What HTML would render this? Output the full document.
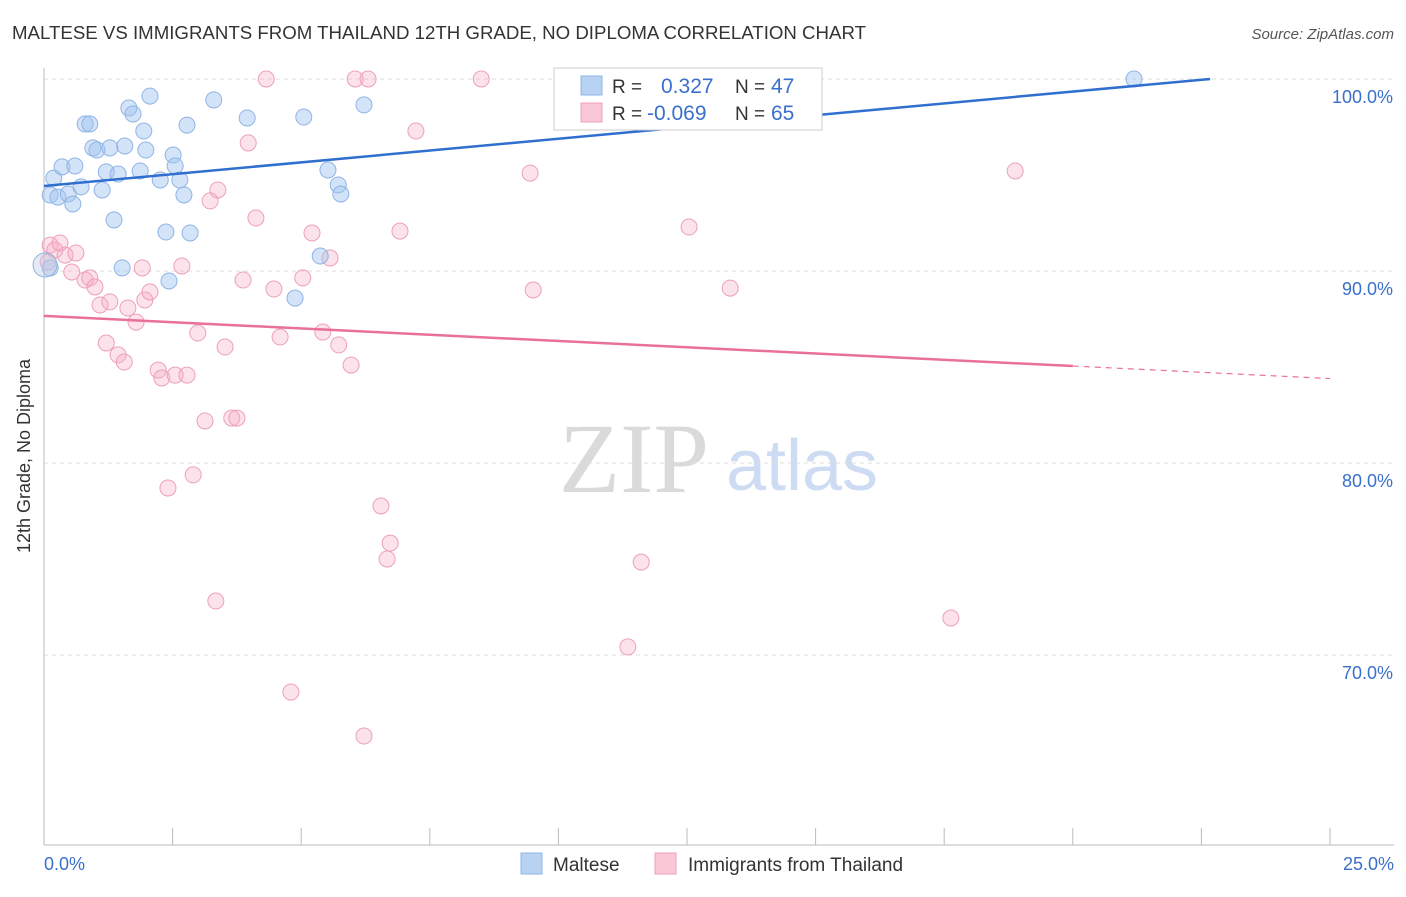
<!DOCTYPE html>
<html><head><meta charset="utf-8"><style>
body{margin:0;background:#fff;font-family:"Liberation Sans",sans-serif;}
</style></head><body>
<svg id="c" width="1406" height="892" font-family="Liberation Sans, sans-serif">
<text x="12" y="39" font-size="18" fill="#333" textLength="854" lengthAdjust="spacingAndGlyphs">MALTESE VS IMMIGRANTS FROM THAILAND 12TH GRADE, NO DIPLOMA CORRELATION CHART</text>
<text x="1394" y="39" font-size="15" fill="#555" text-anchor="end" font-style="italic">Source: ZipAtlas.com</text>
<text x="30" y="456" font-size="18" fill="#333" text-anchor="middle" transform="rotate(-90 30 456)">12th Grade, No Diploma</text>
<g><text x="634" y="492" font-size="100" fill="#dadada" text-anchor="middle" style="font-family:'Liberation Serif',serif">ZIP</text><text x="802" y="490" font-size="72" fill="#cddcf2" text-anchor="middle">atlas</text></g>
<g id="grid"></g><g id="axes"></g><g id="pts"></g><g id="lines"></g>
<g>
<rect x="554" y="68" width="268" height="62" fill="#fff" stroke="#ccc"/>
<rect x="581" y="76" width="21" height="19" fill="#b8d2f4" stroke="#8fb4e6"/>
<rect x="581" y="103" width="21" height="19" fill="#f9c7d6" stroke="#eda0bb"/>
<text x="612" y="93" font-size="19" fill="#333">R =</text><text x="661" y="93" font-size="21" fill="#3a6fcc">0.327</text>
<text x="735" y="93" font-size="19" fill="#333">N =</text><text x="771" y="93" font-size="21" fill="#3a6fcc">47</text>
<text x="612" y="120" font-size="19" fill="#333">R =</text><text x="647" y="120" font-size="21" fill="#3a6fcc">-0.069</text>
<text x="735" y="120" font-size="19" fill="#333">N =</text><text x="771" y="120" font-size="21" fill="#3a6fcc">65</text>
</g>
<g>
<rect x="521" y="853" width="21" height="21" fill="#b8d2f4" stroke="#8fb4e6"/><text x="553" y="871" font-size="19" fill="#333">Maltese</text>
<rect x="655" y="853" width="21" height="21" fill="#f9c7d6" stroke="#eda0bb"/><text x="688" y="871" font-size="19" fill="#333">Immigrants from Thailand</text>
</g>
</svg>
<script>
const yTicks=[100,90,80,70];
const xTickLabels=["0.0%","25.0%"];
const blueX=[0.19,0.12,0.27,0.47,0.56,0.35,0.60,0.72,0.80,0.89,0.95,1.03,1.13,1.21,1.28,1.36,1.44,1.52,1.57,1.65,1.73,1.87,1.94,1.98,2.06,2.26,2.37,2.43,2.51,2.55,2.64,2.72,2.78,2.84,3.30,3.95,4.88,5.05,5.37,5.52,5.72,5.77,6.22,21.19,0.12,0.02,14.31];
const blueY=[94.84,93.96,93.85,94.01,93.49,95.42,95.47,94.38,97.66,97.66,96.41,96.30,94.22,95.16,96.41,92.66,95.05,90.16,96.51,98.49,98.18,95.21,97.29,96.30,99.11,94.74,92.03,89.48,96.04,95.47,94.74,93.96,97.60,91.98,98.91,97.97,88.59,98.02,90.78,95.26,94.48,94.01,98.65,100,90.16,90.31,100];
const pinkX=[0.12,0.21,0.31,0.41,0.54,0.62,0.80,0.89,0.99,1.09,1.21,1.28,1.44,1.56,1.63,1.79,1.91,1.96,2.06,2.22,2.29,2.55,2.68,2.78,2.90,2.99,3.13,3.23,3.34,3.38,3.52,3.65,3.75,3.87,3.97,4.12,4.32,4.47,4.59,4.80,5.03,5.21,5.42,5.56,5.73,5.97,6.05,6.22,6.30,6.55,6.67,6.73,6.92,7.23,8.50,9.45,9.51,11.35,11.61,12.54,12.89,13.34,17.63,18.88,2.41,0.08];
const pinkY=[91.35,91.09,91.46,90.83,89.95,90.94,89.53,89.64,89.17,88.23,86.25,88.39,85.63,85.26,88.07,87.34,90.16,88.49,88.91,84.84,84.43,84.58,90.26,84.58,79.38,86.77,82.19,93.65,72.81,94.22,86.04,82.34,82.34,89.53,96.67,92.76,100,89.06,86.56,68.07,89.64,91.98,86.82,90.68,86.15,85.10,100,65.78,100,77.76,75.00,75.83,92.08,97.29,100,95.10,89.01,70.42,74.84,92.29,98.54,89.11,71.93,95.21,78.70,90.47];
const blueTrend=[94.43,0.2457]; // intercept, slope
const pinkTrend=[87.66,-0.1305];
const sx=v=>44+v*51.44, sy=v=>79+(100-v)*19.2;
const NS="http://www.w3.org/2000/svg";
function mk(t,a,p){const e=document.createElementNS(NS,t);for(const k in a)e.setAttribute(k,a[k]);p.appendChild(e);return e;}
const grid=document.getElementById('grid'),axes=document.getElementById('axes'),pts=document.getElementById('pts'),lines=document.getElementById('lines');
yTicks.forEach(t=>{
 const l=mk('line',{x1:44,x2:1394,y1:sy(t),y2:sy(t),stroke:'#ddd','stroke-dasharray':'4,4'},grid);
 
 
 const tx=mk('text',{x:1393,y:sy(t)+24,'font-size':18,fill:'#3a6fcc','text-anchor':'end'},grid);
 tx.textContent=t.toFixed(1)+'%';
 
 
});
mk('line',{x1:44,x2:44,y1:68,y2:845,stroke:'#bbb'},axes);
mk('line',{x1:44,x2:1394,y1:845,y2:845,stroke:'#bbb'},axes);
for(let i=0;i<=10;i++){const t=mk('line',{x1:sx(i*2.5),x2:sx(i*2.5),y1:828,y2:845,stroke:'#bbb'},axes);
 
 }
[[0,'start',44],[25,'end',1394]].forEach((d,i)=>{const t=mk('text',{x:d[2],y:870,'font-size':18,fill:'#3a6fcc','text-anchor':d[1]},axes);t.textContent=xTickLabels[i];
 
 });
pinkX.forEach((x,i)=>{const c=mk('circle',{cx:sx(x),cy:sy(pinkY[i]),r:8,fill:'rgba(246,172,198,0.35)',stroke:'#eda0bb','stroke-width':1},pts);
 
 });
blueX.forEach((x,i)=>{const c=mk('circle',{cx:sx(x),cy:sy(blueY[i]),r:(i==45?12:8),fill:(i==45?'rgba(190,200,225,0.4)':'rgba(160,196,240,0.45)'),stroke:'#8fb4e6','stroke-width':1},pts);
 
 });
const bEnd=(100-blueTrend[0])/blueTrend[1];
const bl=mk('line',{x1:sx(0),y1:sy(blueTrend[0]),x2:sx(bEnd),y2:sy(100),stroke:'#2f6fd0','stroke-width':2.5},lines);


const pl=mk('line',{x1:sx(0),y1:sy(pinkTrend[0]),x2:sx(20),y2:sy(pinkTrend[0]+20*pinkTrend[1]),stroke:'#e8709a','stroke-width':2.5},lines);


const pd=mk('line',{x1:sx(20),y1:sy(pinkTrend[0]+20*pinkTrend[1]),x2:sx(25),y2:sy(pinkTrend[0]+25*pinkTrend[1]),stroke:'#e8709a','stroke-width':1.2,'stroke-dasharray':'6,5'},lines);


</script>
</body></html>
